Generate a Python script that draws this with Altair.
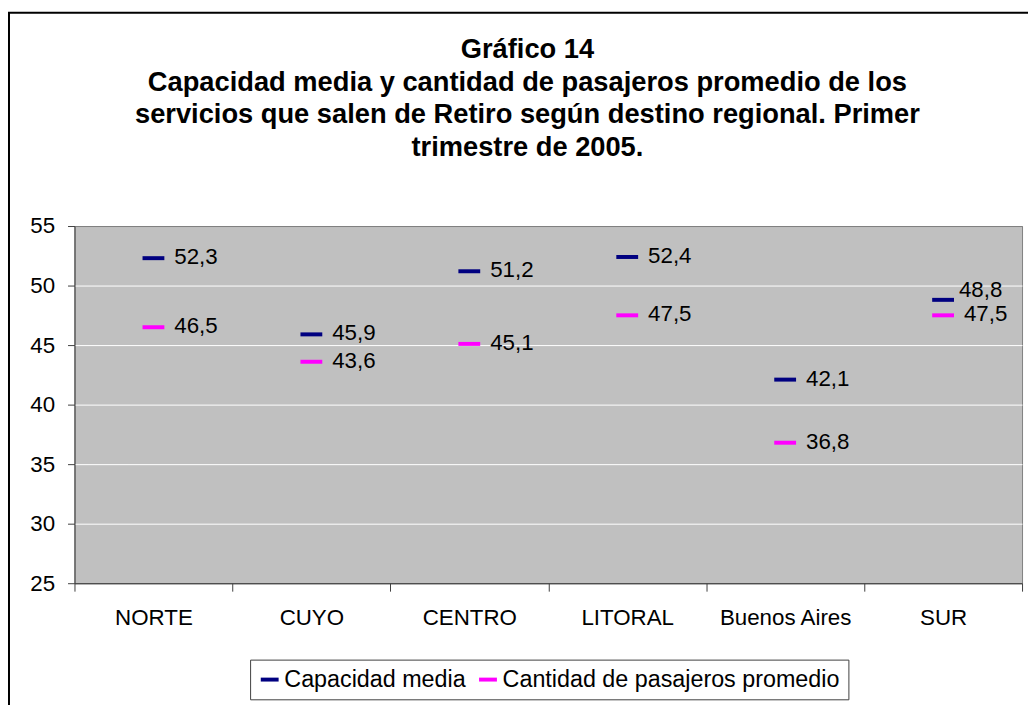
import altair as alt
import pandas as pd

categories = ["NORTE", "CUYO", "CENTRO", "LITORAL", "Buenos Aires", "SUR"]
capacidad_media = [52.3, 45.9, 51.2, 52.4, 42.1, 48.8]
pasajeros_promedio = [46.5, 43.6, 45.1, 47.5, 36.8, 47.5]
series_names = ["Capacidad media", "Cantidad de pasajeros promedio"]
series_colors = ["#000080", "#FF00FF"]
y_ticks = [25, 30, 35, 40, 45, 50, 55]
title_lines = [
    "Gráfico 14",
    "Capacidad media y cantidad de pasajeros promedio de los",
    "servicios que salen de Retiro según destino regional. Primer",
    "trimestre de 2005.",
]

rows = []
for i, c in enumerate(categories):
    for s, vals in zip(series_names, [capacidad_media, pasajeros_promedio]):
        v = vals[i]
        rows.append({"region": c, "serie": s, "valor": v,
                     "etiqueta": f"{v:.1f}".replace(".", ",")})
df = pd.DataFrame(rows)

FONT = "Liberation Sans"
FS = 22.5

x_enc = alt.X("region:N", sort=categories,
              scale=alt.Scale(paddingInner=0, paddingOuter=0),
              axis=alt.Axis(title=None, labelAngle=0, tickBand="extent",
                            labelFontSize=FS, labelFont=FONT, labelColor="black",
                            labelPadding=16, tickSize=8, tickColor="#404040",
                            domainColor="#404040", grid=False))
y_enc = alt.Y("valor:Q",
              scale=alt.Scale(domain=[25, 55], nice=False, zero=False),
              axis=alt.Axis(title=None, values=y_ticks, labelFontSize=FS,
                            labelFont=FONT, labelColor="black", labelPadding=13,
                            tickSize=7, tickColor="#404040", domainColor="#404040",
                            grid=True,
                            gridColor=alt.condition("datum.value == 55 || datum.value == 25",
                                                    alt.value("#808080"), alt.value("white"))))

base = alt.Chart(df)

ticks = base.mark_tick(thickness=4, size=22, opacity=1).encode(
    x=x_enc, y=y_enc,
    color=alt.Color("serie:N", sort=series_names,
                    scale=alt.Scale(domain=series_names, range=series_colors),
                    legend=alt.Legend(title=None, orient="none", direction="horizontal",
                                      legendX=177, legendY=437,
                                      symbolType="M-1,-0.22H1V0.22H-1Z",
                                      symbolSize=324, symbolStrokeWidth=0,
                                      symbolOpacity=1,
                                      labelFontSize=23.5, labelFont=FONT,
                                      labelColor="black", labelLimit=600,
                                      strokeColor="#404040", padding=8,
                                      columnPadding=10, labelOffset=3,
                                      fillColor="white")),
)

labels = base.mark_text(align="left", baseline="middle", dx=21, dy=-1,
                        fontSize=FS, font=FONT, color="black").encode(
    x=alt.X("region:N", sort=categories), y="valor:Q", text="etiqueta:N"
).transform_filter("!(datum.region == 'SUR' && datum.serie == 'Capacidad media')")

labels_sur = base.mark_text(align="left", baseline="middle", dx=16, dy=-10,
                            fontSize=FS, font=FONT, color="black").encode(
    x=alt.X("region:N", sort=categories), y="valor:Q", text="etiqueta:N"
).transform_filter("datum.region == 'SUR' && datum.serie == 'Capacidad media'")

border = alt.Chart(pd.DataFrame({"k": [0]})).mark_rect(
    filled=False, stroke="black", strokeWidth=2
).encode(x=alt.value(-66), x2=alt.value(965), y=alt.value(-215), y2=alt.value(495))

chart = alt.layer(ticks, labels, labels_sur, border).properties(
    width=955, height=360,
    padding={"left": 67, "top": 217, "right": 6, "bottom": 120},
    autosize=alt.AutoSizeParams(type="none"),
    title=alt.TitleParams(text=title_lines, fontSize=27.5, font=FONT, fontWeight="bold",
                          color="black", lineHeight=33, anchor="middle", frame="group",
                          dx=-21, offset=-151),
    background="white",
).configure_view(fill="#C0C0C0", stroke="#808080", strokeWidth=1)

chart.save("out.html", embed_options={"renderer": "svg", "actions": False})
